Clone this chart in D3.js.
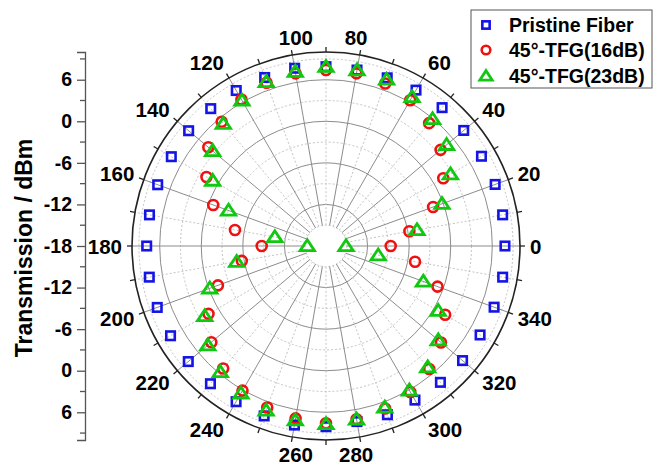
<!DOCTYPE html>
<html>
<head>
<meta charset="utf-8">
<script src="https://cdn.jsdelivr.net/npm/d3@7"></script>
<style>
  html, body { margin: 0; padding: 0; background: #fff; }
  svg { display: block; }
  text { font-family: "Liberation Sans", Arial, sans-serif; font-weight: bold; fill: #000; }
</style>
</head>
<body>
<svg id="chart" width="654" height="465"></svg>
<script>
// Polarisation angle (degrees), one reading every 10°
const angles = d3.range(0, 360, 10);

// Transmitted power (dBm) per angle
const pristine = [7.83, 7.89, 7.98, 7.91, 7.95, 8.07, 7.98, 7.83, 7.79, 7.88, 8.05, 7.88,
                  7.91, 7.88, 7.88, 7.78, 7.85, 7.87, 7.88, 7.90, 7.92, 7.91, 7.95, 7.95,
                  7.95, 8.10, 8.24, 8.08, 7.73, 7.92, 7.68, 7.69, 7.73, 7.68, 7.82, 7.89];
const tfg16 = [-8.66, -5.78, -1.55, 1.54, 3.59, 5.15, 6.30, 6.97, 7.30, 7.40, 7.30, 7.07,
               6.42, 5.42, 4.17, 1.92, -0.68, -4.66, -8.72, -5.66, -1.40, 1.58, 3.61, 5.09,
               6.10, 6.81, 7.26, 7.59, 7.40, 6.97, 6.32, 5.18, 3.66, 1.86, -0.87, -4.95];
const tfg23 = [-15.11, -4.66, -0.18, 2.74, 4.72, 5.93, 6.84, 7.57, 7.78, 7.88, 7.55, 7.21,
               6.26, 5.06, 3.36, 0.89, -3.03, -10.50, -15.30, -4.91, -0.15, 2.21, 4.27, 5.73,
               6.55, 7.26, 7.53, 7.69, 7.40, 6.79, 6.06, 4.83, 3.14, 0.70, -3.05, -10.35];

const seriesNames = ["Pristine Fiber", "45°-TFG(16dB)", "45°-TFG(23dB)"];
const seriesColors = ["#1414e6", "#f01010", "#10c810"];
const seriesShapes = ["square", "circle", "triangle"];

// Axis settings
const radialMin = -18, radialMax = 10;
const radialMajor = [-12, -6, 0, 6];
const radialMinor = [-15, -9, -3, 3, 9];
const angleLabels = d3.range(0, 360, 20);

const svg = d3.select("#chart");
const cx = 326, cy = 246, R = 194;

const r = d3.scaleLinear().domain([radialMin, radialMax]).range([0, R]);
const toRad = d => d * Math.PI / 180;
const px = (deg, rad) => cx + rad * Math.cos(toRad(deg));
const py = (deg, rad) => cy - rad * Math.sin(toRad(deg));

const plot = svg.append("g");

// Grid circles
plot.selectAll("circle.minor").data(radialMinor).join("circle")
  .attr("cx", cx).attr("cy", cy).attr("r", d => r(d))
  .attr("fill", "none").attr("stroke", "#c4c4c4").attr("stroke-width", 1)
  .attr("stroke-dasharray", "2,2");
plot.selectAll("circle.major").data(radialMajor).join("circle")
  .attr("cx", cx).attr("cy", cy).attr("r", d => r(d))
  .attr("fill", "none").attr("stroke", "#8c8c8c").attr("stroke-width", 1);

// Radial spokes: solid every 20°, dotted in between
const r0 = r(-15);
const spokes = d3.range(0, 360, 10);
plot.selectAll("line.spoke").data(spokes).join("line")
  .attr("x1", d => px(d, r0)).attr("y1", d => py(d, r0))
  .attr("x2", d => px(d, R)).attr("y2", d => py(d, R))
  .attr("stroke", d => d % 20 === 0 ? "#8c8c8c" : "#c4c4c4")
  .attr("stroke-width", 1)
  .attr("stroke-dasharray", d => d % 20 === 0 ? null : "2,2");

// Outer ring and its ticks
plot.append("circle").attr("cx", cx).attr("cy", cy).attr("r", R)
  .attr("fill", "none").attr("stroke", "#222").attr("stroke-width", 1.6);
plot.selectAll("line.atick").data(spokes).join("line")
  .attr("x1", d => px(d, R)).attr("y1", d => py(d, R))
  .attr("x2", d => px(d, R + 5)).attr("y2", d => py(d, R + 5))
  .attr("stroke", "#222").attr("stroke-width", 1.3);

// Angle labels
const labR = 204;
plot.selectAll("text.alab").data(angleLabels).join("text")
  .attr("font-size", 20.5)
  .attr("dominant-baseline", "central")
  .attr("text-anchor", d => {
    const c = Math.cos(toRad(d));
    return c > 0.4 ? "start" : (c < -0.4 ? "end" : "middle");
  })
  .attr("x", d => {
    const c = Math.cos(toRad(d));
    return Math.abs(c) > 0.4 ? px(d, labR) : px(d, labR * 0.85);
  })
  .attr("y", d => py(d, labR + 8))
  .text(d => d);

// Markers
function drawMarker(g, shape, color, x, y, s) {
  if (shape === "square") {
    g.append("rect").attr("x", x - s * 0.85).attr("y", y - s * 0.85)
      .attr("width", s * 1.7).attr("height", s * 1.7)
      .attr("fill", "none").attr("stroke", color).attr("stroke-width", 2.6);
  } else if (shape === "circle") {
    g.append("circle").attr("cx", x).attr("cy", y).attr("r", s)
      .attr("fill", "none").attr("stroke", color).attr("stroke-width", 2.6);
  } else {
    const h = s * 1.25;
    const pts = [[x, y - h], [x - h * 1.15, y + h * 0.75], [x + h * 1.15, y + h * 0.75]];
    g.append("polygon").attr("points", pts.map(p => p.join(",")).join(" "))
      .attr("fill", "none").attr("stroke", color).attr("stroke-width", 2.8)
      .attr("stroke-linejoin", "miter");
  }
}

const allSeries = [pristine, tfg16, tfg23];
const marks = svg.append("g");
allSeries.forEach((vals, i) => {
  const g = marks.append("g");
  vals.forEach((v, k) => {
    const a = angles[k];
    drawMarker(g, seriesShapes[i], seriesColors[i], px(a, r(v)), py(a, r(v)), 5);
  });
});

// Left radial axis (mirrored about the centre)
const axisX = 85;
const ys = d3.scaleLinear().domain([-(radialMax - radialMin), radialMax - radialMin])
  .range([cy + R, cy - R]);
const majorVals = [-24, -18, -12, -6, 0, 6, 12, 18, 24];
const minorVals = [-27, -21, -15, -9, -3, 3, 9, 15, 21, 27];
const axisG = svg.append("g").attr("transform", `translate(${axisX},0)`);
axisG.call(d3.axisLeft(ys).tickValues(majorVals).tickSize(8).tickPadding(5)
  .tickFormat(d => Math.abs(d) + radialMin));
axisG.select(".domain").attr("stroke", "#555").attr("stroke-width", 1.3);
axisG.selectAll(".tick line").attr("stroke", "#555").attr("stroke-width", 1.3);
axisG.selectAll(".tick text").attr("font-size", 19.5)
  .attr("font-family", "Liberation Sans, Arial, sans-serif").attr("font-weight", "bold")
  .attr("fill", "#000");
axisG.selectAll("line.minor").data(minorVals).join("line")
  .attr("x1", -5).attr("x2", 0).attr("y1", d => ys(d)).attr("y2", d => ys(d))
  .attr("stroke", "#555").attr("stroke-width", 1.3);

// Axis title
svg.append("text")
  .attr("transform", "translate(24,248) rotate(-90)")
  .attr("text-anchor", "middle").attr("dominant-baseline", "central")
  .attr("font-size", 23)
  .text("Transmission / dBm");

// Legend
const leg = svg.append("g");
leg.append("rect").attr("x", 471).attr("y", 10).attr("width", 181).attr("height", 78)
  .attr("fill", "#fff").attr("stroke", "#555").attr("stroke-width", 1);
const rowsY = [25, 50, 76];
seriesNames.forEach((name, i) => {
  drawMarker(leg, seriesShapes[i], seriesColors[i], 486, rowsY[i], 4.3);
  leg.append("text").attr("x", 509).attr("y", rowsY[i])
    .attr("dominant-baseline", "central").attr("font-size", 19.5).text(name);
});
</script>
</body>
</html>
